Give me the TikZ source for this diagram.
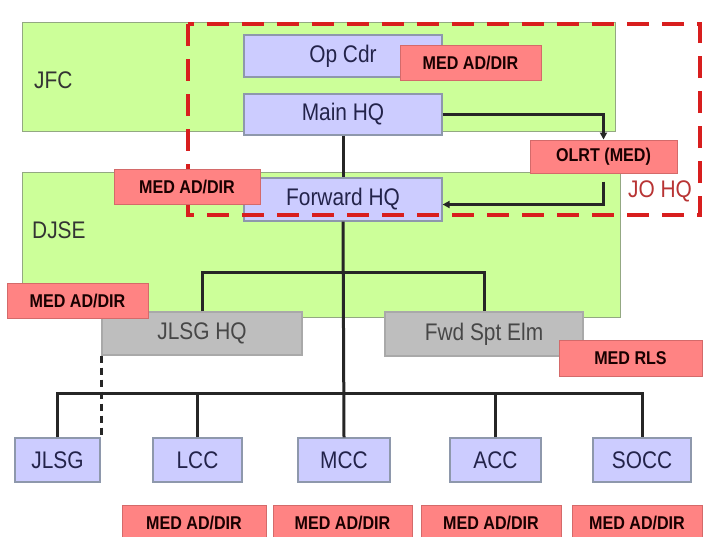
\documentclass[tikz,border=0pt]{standalone}
\usepackage{fontspec}
\setmainfont{Liberation Sans}[FakeStretch=0.87]
\definecolor{grpgreen}{HTML}{CCFF99}
\definecolor{grpedge}{HTML}{93A882}
\definecolor{lav}{HTML}{CCCCFF}
\definecolor{lavedge}{HTML}{8E98AC}
\definecolor{hqgray}{HTML}{BEBEBE}
\definecolor{grayedge}{HTML}{A9A9A9}
\definecolor{medred}{HTML}{FF8383}
\definecolor{mededge}{HTML}{D46A6A}
\definecolor{jored}{HTML}{D81E1E}
\definecolor{jotext}{HTML}{B83434}
\definecolor{inkblue}{HTML}{23234A}
\usetikzlibrary{arrows.meta}
\tikzset{
  grp/.style={draw=grpedge, fill=grpgreen, line width=1pt, inner sep=0pt},
  grplbl/.style={anchor=west, text=black!80, font=\fontsize{24}{26}\selectfont, inner sep=0pt},
  cell/.style={draw=lavedge, fill=lav, line width=1.2pt, inner sep=0pt, text=inkblue,
               font=\fontsize{24}{26}\selectfont, minimum height=43pt},
  hqcell/.style={cell, draw=grayedge, fill=hqgray, text=black!72},
  med/.style={draw=mededge, fill=medred, line width=1pt, inner sep=0pt, text=black!90!red,
              font=\bfseries\fontsize{18.5}{20}\selectfont, minimum height=35pt},
  link/.style={line width=3pt, draw=black!85},
  linkarrow/.style={link, -{Triangle[length=7pt,width=7pt]}},
  joframe/.style={draw=jored, line width=4.5pt, dash pattern=on 22pt off 13pt},
}
\begin{document}
\begin{tikzpicture}[x=1pt,y=-1pt]
\useasboundingbox (0,0) rectangle (703,536);
\clip (0,0) rectangle (703,536);
\fill[white] (0,0) rectangle (703,536);
% command levels
\node[grp, minimum width=593pt, minimum height=109pt] (jfc) at (318.5,76.5) {};
\node[grp, minimum width=598pt, minimum height=145pt] (djse) at (321,244.5) {};
\node[grplbl] (jfclbl) at (34,80) {JFC};
\node[grplbl] (djselbl) at (32,230) {DJSE};
% headquarters
\node[cell, minimum width=198pt, minimum height=42pt] (opcdr) at (343,56) {Op Cdr};
\node[cell, minimum width=198pt, minimum height=41pt] (mainhq) at (343,114.5) {Main HQ};
\node[cell, minimum width=198pt] (fwdhq) at (343,199.5) {Forward HQ};
\node[hqcell, minimum width=200pt] (jlsghq) at (202,333.5) {JLSG HQ};
\node[hqcell, minimum width=198pt, minimum height=44pt] (fse) at (484,334) {Fwd Spt Elm};
% components
\node[cell, minimum width=85pt, minimum height=44pt] (jlsg) at (57.5,460) {JLSG};
\node[cell, minimum width=89pt, minimum height=44pt] (lcc) at (197.5,460) {LCC};
\node[cell, minimum width=92pt, minimum height=44pt] (mcc) at (344,460) {MCC};
\node[cell, minimum width=91pt, minimum height=44pt] (acc) at (495.5,460) {ACC};
\node[cell, minimum width=98pt, minimum height=44pt] (socc) at (642,460) {SOCC};
% JO HQ frame
\draw[joframe] (188,24) rectangle (700,215);
\node[text=jotext, font=\fontsize{24}{26}\selectfont, inner sep=0pt] (johq) at (660,191) {JO HQ};
% medical elements
\node[med, minimum width=141pt] (medcdr) at (470.5,62.5) {MED AD/DIR};
\node[med, minimum width=146pt] (medfwd) at (187,186.5) {MED AD/DIR};
\node[med, minimum width=147pt, minimum height=33pt] (olrt) at (603.5,156.5) {OLRT (MED)};
\node[med, minimum width=141pt] (meddjse) at (77.5,300.5) {MED AD/DIR};
\node[med, minimum width=143pt, minimum height=36pt] (medrls) at (630.5,358) {MED RLS};
\foreach \x/\w/\n in {194/144/lcc,342.5/139/mcc,491/140/acc,637/130/socc}
  \node[med, minimum width=\w pt] (med\n) at (\x,522.5) {MED AD/DIR};
% links
\coordinate (upbus) at (343,272);
\coordinate (lowbus) at (343,393);
\draw[link] (mainhq.south) -- (fwdhq.north);
\draw[link] (fwdhq.south) -- (mcc.north);
\draw[link] (jlsghq.north) |- (upbus) -| (fse.north);
\draw[link] (jlsg.north) |- (lowbus) -| (socc.north);
\foreach \n in {lcc,acc}
  \draw[link] (\n.north) -- (\n.north |- lowbus);
\draw[link, line width=2.4pt, dash pattern=on 7pt off 5pt] (jlsghq.south west) -- (jlsghq.south west |- jlsg.north);
\draw[linkarrow] (mainhq.east) -| (olrt.north);
\draw[linkarrow, shorten <=8pt] (olrt.south) |- ([yshift=-5pt]fwdhq.east);
\end{tikzpicture}
\end{document}
